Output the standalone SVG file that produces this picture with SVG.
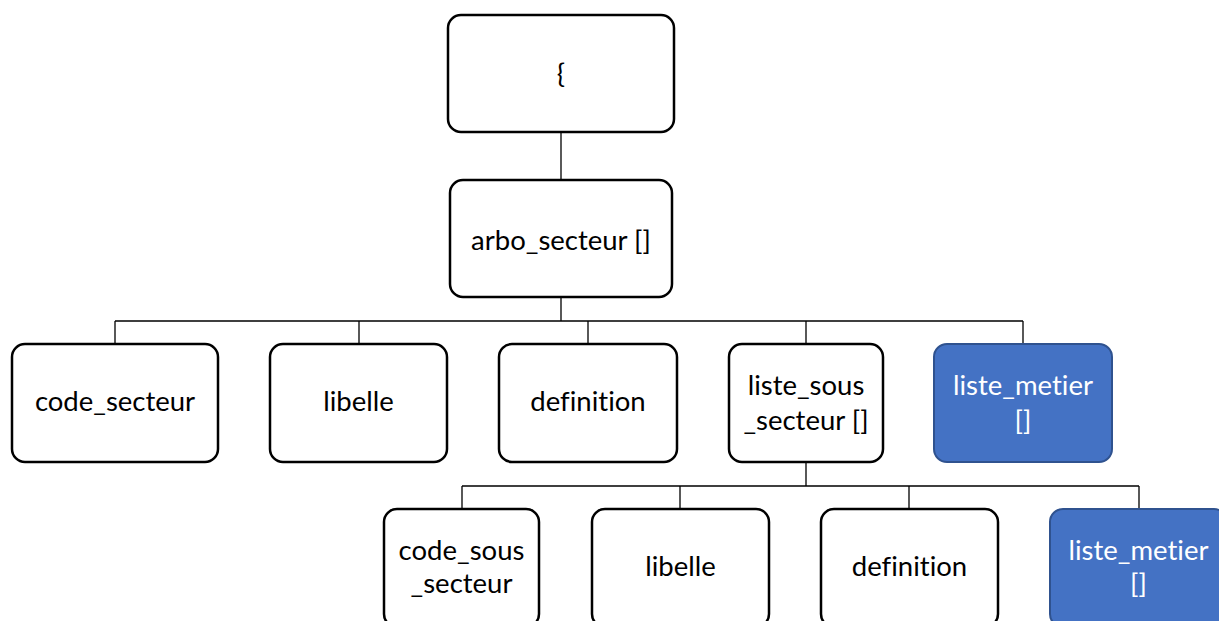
<svg xmlns="http://www.w3.org/2000/svg" width="1219" height="621" viewBox="0 0 1219 621">
<style>
.box{fill:#ffffff;stroke:#000000;stroke-width:2.5}
.blue{fill:#4472C4;stroke:#2F528F;stroke-width:2}
.lbl{font-family:Lato,"Open Sans",sans-serif;font-size:27.5px;fill:#000000;text-anchor:middle;font-variant-ligatures:none}
.wl{fill:#ffffff}
.con{fill:none;stroke:#000000;stroke-width:1.3}
</style>
<rect width="1219" height="621" fill="#ffffff"/>
<g id="connectors">
<path class="con" d="M561 132V180"/>
<path class="con" d="M561 297V321M115 321H1023M115 321V344M359 321V344M588 321V344M806 321V344M1023 321V344"/>
<path class="con" d="M806 462V486M462 486H1139M462 486V509M680 486V509M909 486V509M1139 486V509"/>
</g>
<g id="n-root"><rect class="box" x="448" y="15" width="226" height="117" rx="13"/><text class="lbl" x="561" y="83">{</text></g>
<g id="n-arbo"><rect class="box" x="450" y="180" width="222" height="117" rx="13"/><text class="lbl" x="561" y="250">arbo_secteur []</text></g>
<g id="n-code"><rect class="box" x="12" y="344" width="206" height="118" rx="13"/><text class="lbl" x="115" y="411">code_secteur</text></g>
<g id="n-libelle"><rect class="box" x="270" y="344" width="177" height="118" rx="13"/><text class="lbl" x="358.5" y="411">libelle</text></g>
<g id="n-definition"><rect class="box" x="499" y="344" width="178" height="118" rx="13"/><text class="lbl" x="588" y="411">definition</text></g>
<g id="n-liste-sous"><rect class="box" x="729" y="344" width="154" height="118" rx="13"/><text class="lbl" x="806" y="395">liste_sous</text><text class="lbl" x="806" y="430">_secteur []</text></g>
<g id="n-liste-metier"><rect class="blue" x="934" y="344" width="178" height="118" rx="13"/><text class="lbl wl" x="1023" y="395">liste_metier</text><text class="lbl wl" x="1023" y="430">[]</text></g>
<g id="n-code-sous"><rect class="box" x="384" y="509" width="155" height="118" rx="13"/><text class="lbl" x="461.5" y="560">code_sous</text><text class="lbl" x="461.5" y="593">_secteur</text></g>
<g id="n-libelle2"><rect class="box" x="592" y="509" width="177" height="118" rx="13"/><text class="lbl" x="680.5" y="576">libelle</text></g>
<g id="n-definition2"><rect class="box" x="821" y="509" width="177" height="118" rx="13"/><text class="lbl" x="909.5" y="576">definition</text></g>
<g id="n-liste-metier2"><rect class="blue" x="1050" y="509" width="177" height="118" rx="13"/><text class="lbl wl" x="1138.5" y="560">liste_metier</text><text class="lbl wl" x="1138.5" y="593">[]</text></g>
</svg>
